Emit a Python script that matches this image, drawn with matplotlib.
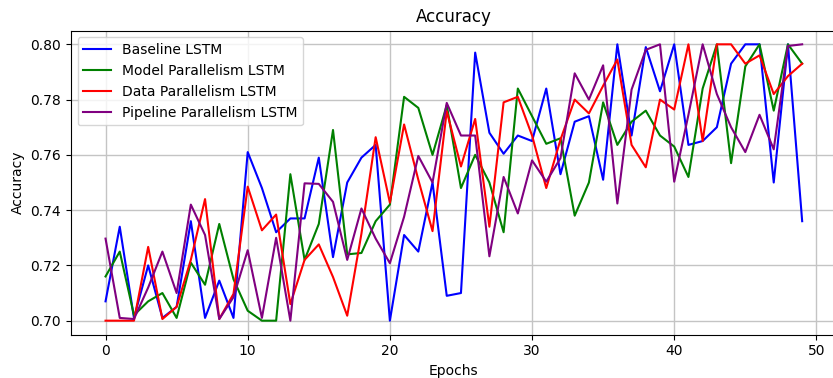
import matplotlib
matplotlib.use("Agg")
import matplotlib.pyplot as plt
import numpy as np

# --- accuracy per epoch ---
epochs = np.arange(50)

baseline_acc = [0.707, 0.734, 0.701, 0.720, 0.701, 0.705, 0.736, 0.701, 0.7145, 0.701,
                0.761, 0.748, 0.732, 0.737, 0.737, 0.759, 0.723, 0.750, 0.759, 0.7636,
                0.700, 0.731, 0.725, 0.750, 0.709, 0.710, 0.797, 0.768, 0.7604, 0.767,
                0.765, 0.784, 0.753, 0.772, 0.774, 0.751, 0.800, 0.767, 0.799, 0.783,
                0.800, 0.7636, 0.765, 0.770, 0.793, 0.800, 0.800, 0.750, 0.800, 0.736]

model_acc = [0.716, 0.725, 0.702, 0.707, 0.710, 0.701, 0.721, 0.713, 0.735, 0.715,
             0.7036, 0.700, 0.700, 0.753, 0.722, 0.735, 0.769, 0.724, 0.7245, 0.736,
             0.742, 0.781, 0.777, 0.760, 0.778, 0.748, 0.760, 0.750, 0.732, 0.784,
             0.774, 0.764, 0.766, 0.738, 0.750, 0.779, 0.7636, 0.772, 0.776, 0.767,
             0.763, 0.752, 0.784, 0.800, 0.757, 0.792, 0.800, 0.776, 0.800, 0.793]

data_acc = [0.700, 0.700, 0.700, 0.7267, 0.7006, 0.705, 0.722, 0.744, 0.7006, 0.7097,
            0.7485, 0.7327, 0.7384, 0.706, 0.722, 0.7276, 0.7158, 0.7018, 0.7315, 0.7664,
            0.7427, 0.771, 0.751, 0.7324, 0.7758, 0.7558, 0.773, 0.734, 0.779, 0.781,
            0.767, 0.748, 0.7655, 0.780, 0.775, 0.785, 0.7945, 0.7636, 0.7555, 0.780,
            0.7764, 0.800, 0.765, 0.800, 0.800, 0.793, 0.796, 0.782, 0.7885, 0.793]

pipeline_acc = [0.7297, 0.701, 0.7006, 0.712, 0.725, 0.710, 0.742, 0.731, 0.7006, 0.7085,
                0.7255, 0.701, 0.730, 0.700, 0.7497, 0.7495, 0.743, 0.722, 0.7406, 0.7297,
                0.7208, 0.7376, 0.7596, 0.750, 0.7788, 0.767, 0.767, 0.7233, 0.752, 0.7388,
                0.758, 0.7503, 0.7588, 0.7895, 0.780, 0.7924, 0.7424, 0.7836, 0.798, 0.800,
                0.7503, 0.7745, 0.800, 0.782, 0.770, 0.761, 0.7745, 0.762, 0.7994, 0.800]

series = [
    ("Baseline LSTM", baseline_acc, "blue"),
    ("Model Parallelism LSTM", model_acc, "green"),
    ("Data Parallelism LSTM", data_acc, "red"),
    ("Pipeline Parallelism LSTM", pipeline_acc, "purple"),
]

fig = plt.figure(figsize=(8.33, 3.78), dpi=100)
# the reference is cropped on the right, so the axes run a little past the edge
ax = fig.add_axes([70.7 / 833, 1 - 334.5 / 378, (837 - 70.7) / 833, (334.5 - 30.5) / 378])

for label, acc, color in series:
    ax.plot(epochs, acc, color=color, label=label)

ax.set_title("Accuracy")
ax.set_xlabel("Epochs")
ax.set_ylabel("Accuracy")
ax.grid(True, color="#c4c4c4", linewidth=1.0)
ax.spines["right"].set_visible(False)
ax.legend(loc="upper left")

fig.savefig("out.png", dpi=100)
